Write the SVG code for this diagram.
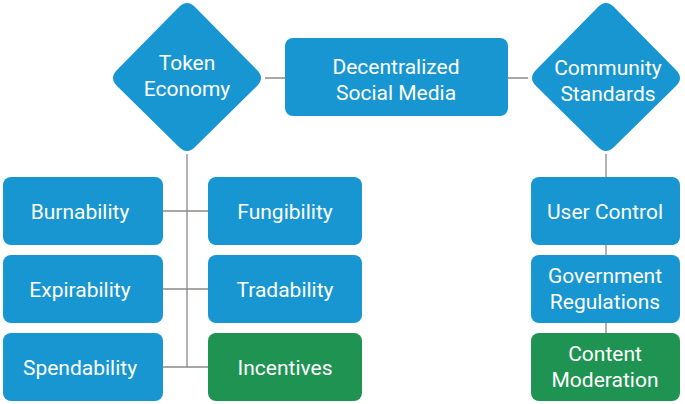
<svg xmlns="http://www.w3.org/2000/svg" width="685" height="404" viewBox="0 0 685 404">
<style>
.b{fill:#1796d2}.g{fill:#1f9452}
text{font-family:Roboto,"Liberation Sans",sans-serif;font-size:21px;fill:#fff;text-anchor:middle}
.c{stroke:#8a8a8a;stroke-width:1.3;fill:none}
</style>
<g id="connectors" class="c">
<path d="M265 78H285M508 78H528M187 154V367M163 211H208M163 289H208M163 367H208M606 154V333"/>
</g>
<g id="token"><path class="b" d="M179 7Q187 -1 195 7L257 70Q265 78 257 86L195 147Q187 155 179 147L117 86Q109 78 117 70Z"/><text x="187" y="70">Token</text><text x="187" y="96">Economy</text></g>
<g id="dsm"><rect class="b" x="285" y="38" width="223" height="78" rx="8"/><text x="396" y="74">Decentralized</text><text x="396" y="100">Social Media</text></g>
<g id="community"><path class="b" d="M598 7Q606 -1 614 7L676 70Q684 78 676 86L614 147Q606 155 598 147L536 86Q528 78 536 70Z"/><text x="608" y="75">Community</text><text x="608" y="101">Standards</text></g>
<g id="burn"><rect class="b" x="3" y="177" width="160" height="68" rx="8"/><text x="80" y="219">Burnability</text></g>
<g id="fung"><rect class="b" x="208" y="177" width="154" height="68" rx="8"/><text x="285" y="219">Fungibility</text></g>
<g id="exp"><rect class="b" x="3" y="255" width="160" height="68" rx="8"/><text x="80" y="297">Expirability</text></g>
<g id="trad"><rect class="b" x="208" y="255" width="154" height="68" rx="8"/><text x="285" y="297">Tradability</text></g>
<g id="spend"><rect class="b" x="3" y="333" width="160" height="68" rx="8"/><text x="80" y="375">Spendability</text></g>
<g id="inc"><rect class="g" x="208" y="333" width="154" height="68" rx="8"/><text x="285" y="375">Incentives</text></g>
<g id="user"><rect class="b" x="531" y="177" width="149" height="68" rx="8"/><text x="605" y="219">User Control</text></g>
<g id="gov"><rect class="b" x="531" y="255" width="149" height="68" rx="8"/><text x="605" y="283">Government</text><text x="605" y="309">Regulations</text></g>
<g id="cm"><rect class="g" x="531" y="333" width="149" height="68" rx="8"/><text x="605" y="361">Content</text><text x="605" y="387">Moderation</text></g>
</svg>
